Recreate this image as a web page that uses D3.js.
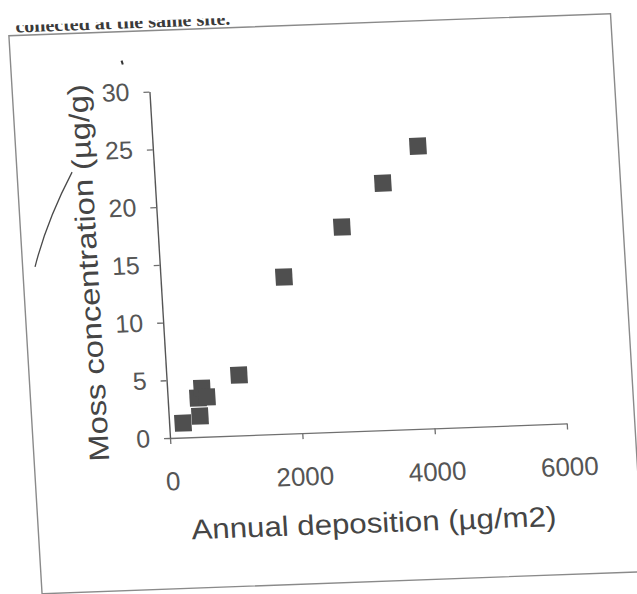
<!DOCTYPE html>
<html>
<head>
<meta charset="utf-8">
<script src="https://cdn.jsdelivr.net/npm/d3@7"></script>
<style>
  html, body { margin: 0; padding: 0; background: #fff; }
  svg { display: block; }
</style>
</head>
<body>
<script>
// ---- data ----
const depositionValues = [210, 472, 458, 527, 594, 1097, 1864, 2784, 3441, 4003];   // Annual deposition (µg/m2)
const mossValues       = [1.25, 1.8, 3.37, 4.2, 3.43, 5.22, 13.55, 17.69, 21.35, 24.44]; // Moss concentration (µg/g)
const xTickValues = [0, 2000, 4000, 6000];
const yTickValues = [0, 5, 10, 15, 20, 25, 30];
const xTitle = "Annual deposition (µg/m2)";
const yTitle = "Moss concentration (µg/g)";
const captionAbove = "collected at the same site.";

const W = 637, H = 594;
const svg = d3.select("body").append("svg").attr("width", W).attr("height", H);
svg.append("rect").attr("width", W).attr("height", H).attr("fill", "#ffffff");

// the scanned page is slightly rotated / skewed
const g = svg.append("g")
  .attr("transform", "matrix(0.99933,-0.03664,0.05931,0.99824,-25.86,7.0)");

const defs = svg.append("defs");
defs.append("clipPath").attr("id", "cutTop")
  .append("rect").attr("x", 0).attr("y", 20).attr("width", 700).attr("height", 700);

// caption fragment above the frame (cut off by the scan)
g.append("text")
  .attr("x", 40).attr("y", 27)
  .attr("clip-path", "url(#cutTop)")
  .attr("font-family", "Liberation Serif, serif")
  .attr("font-size", 19).attr("font-weight", "bold")
  .attr("fill", "#3a3a3a")
  .attr("textLength", 215).attr("lengthAdjust", "spacingAndGlyphs")
  .text(captionAbove);

// frame around chart
g.append("rect")
  .attr("x", 33).attr("y", 30).attr("width", 602).attr("height", 559)
  .attr("fill", "none").attr("stroke", "#8a8a8a").attr("stroke-width", 1.4);

const x = d3.scaleLinear().domain([0, 6000]).range([170, 567]);
const y = d3.scaleLinear().domain([0, 30]).range([438, 91]);

const tickFont = "Liberation Sans, Arial, sans-serif";

// x axis
const xAxis = g.append("g").attr("transform", "translate(0,438)")
  .call(d3.axisBottom(x).tickValues(xTickValues).tickFormat(d3.format("d"))
        .tickSize(6).tickSizeOuter(0).tickPadding(28));
xAxis.select(".domain").attr("stroke", "#707070").attr("stroke-width", 1.3);
xAxis.selectAll(".tick line").attr("stroke", "#707070").attr("stroke-width", 1.3);
xAxis.selectAll(".tick text")
  .attr("font-family", tickFont).attr("font-size", 26).attr("fill", "#555");

// y axis
const yAxis = g.append("g").attr("transform", "translate(170,0)")
  .call(d3.axisLeft(y).tickValues(yTickValues).tickFormat(d3.format("d"))
        .tickSize(6).tickSizeOuter(0).tickPadding(14));
yAxis.select(".domain").attr("stroke", "#555").attr("stroke-width", 1.4);
yAxis.selectAll(".tick line").attr("stroke", "#707070").attr("stroke-width", 1.3);
yAxis.selectAll(".tick text")
  .attr("font-family", tickFont).attr("font-size", 25).attr("fill", "#555");

// axis titles
g.append("text")
  .attr("x", (x(0) + x(6000)) / 2).attr("y", 540)
  .attr("text-anchor", "middle")
  .attr("font-family", tickFont).attr("font-size", 28).attr("fill", "#454545")
  .attr("textLength", 365).attr("lengthAdjust", "spacingAndGlyphs")
  .text(xTitle);

g.append("text")
  .attr("transform", "translate(108,270) rotate(-90)")
  .attr("text-anchor", "middle")
  .attr("font-family", tickFont).attr("font-size", 28).attr("fill", "#454545")
  .attr("textLength", 378).attr("lengthAdjust", "spacingAndGlyphs")
  .text(yTitle);

// hand-drawn pen stroke on the scan
g.append("path")
  .attr("d", "M45.4,262 Q59.6,216.6 88,168.6")
  .attr("fill", "none").attr("stroke", "#4a4a4a").attr("stroke-width", 1.3);
g.append("path")
  .attr("d", "M144,59 L145,63")
  .attr("fill", "none").attr("stroke", "#333").attr("stroke-width", 2);

// square markers
const S = 17;
g.append("g").selectAll("rect")
  .data(depositionValues.map((d, i) => ({ x: d, y: mossValues[i] })))
  .join("rect")
  .attr("x", d => x(d.x) - S / 2)
  .attr("y", d => y(d.y) - S / 2)
  .attr("width", S).attr("height", S)
  .attr("fill", "#4f4f4f");
</script>
</body>
</html>
